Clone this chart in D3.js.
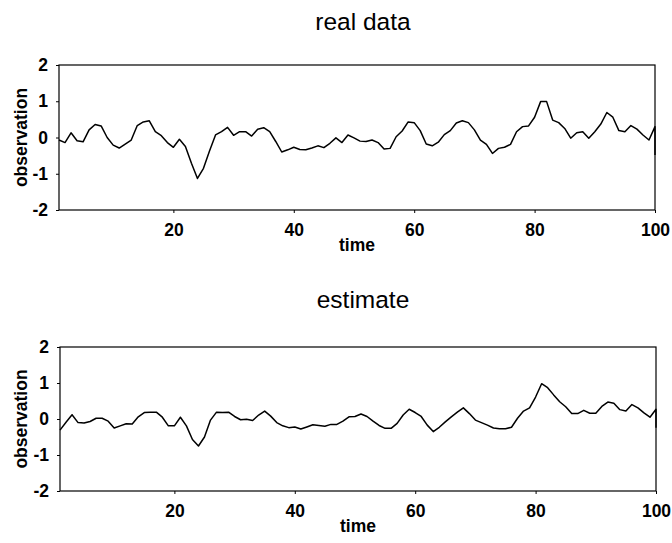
<!DOCTYPE html>
<html>
<head>
<meta charset="utf-8">
<script src="https://cdn.jsdelivr.net/npm/d3@7"></script>
<style>
  html, body { margin: 0; padding: 0; background: #fff; }
  svg { display: block; }
  text { font-family: "Liberation Sans", Arial, sans-serif; fill: #000; }
</style>
</head>
<body>
<svg id="chart" width="672" height="543"></svg>
<script>
// ---- data ----
const time = d3.range(1, 101);
const realData = [
  -0.07, -0.14, 0.13, -0.09, -0.12, 0.21, 0.36, 0.32, 0.00, -0.21,
  -0.29, -0.18, -0.07, 0.33, 0.43, 0.46, 0.16, 0.05, -0.14, -0.27,
  -0.05, -0.25, -0.71, -1.13, -0.85, -0.37, 0.07, 0.16, 0.28, 0.06,
  0.16, 0.16, 0.04, 0.23, 0.27, 0.16, -0.11, -0.40, -0.34, -0.27,
  -0.33, -0.34, -0.29, -0.23, -0.28, -0.16, -0.01, -0.14, 0.07, -0.01,
  -0.10, -0.11, -0.07, -0.14, -0.32, -0.30, 0.02, 0.18, 0.43, 0.41,
  0.19, -0.18, -0.23, -0.13, 0.08, 0.19, 0.40, 0.46, 0.41, 0.21,
  -0.07, -0.19, -0.44, -0.30, -0.27, -0.19, 0.16, 0.30, 0.32, 0.56,
  0.99, 0.99, 0.48, 0.41, 0.25, -0.02, 0.13, 0.16, -0.02, 0.16,
  0.37, 0.69, 0.56, 0.19, 0.16, 0.33, 0.23, 0.07, -0.07, 0.30
];
const realEnd = -0.48;
const estimateData = [
  -0.31, -0.09, 0.12, -0.10, -0.11, -0.07, 0.02, 0.02, -0.06, -0.25,
  -0.19, -0.13, -0.14, 0.06, 0.18, 0.19, 0.19, 0.05, -0.19, -0.19,
  0.05, -0.19, -0.57, -0.75, -0.50, -0.03, 0.19, 0.18, 0.19, 0.07,
  -0.02, -0.01, -0.04, 0.11, 0.22, 0.08, -0.10, -0.19, -0.24, -0.22,
  -0.28, -0.22, -0.16, -0.18, -0.20, -0.15, -0.15, -0.06, 0.06, 0.07,
  0.14, 0.07, -0.06, -0.18, -0.26, -0.26, -0.12, 0.11, 0.27, 0.18,
  0.07, -0.17, -0.35, -0.23, -0.08, 0.06, 0.19, 0.31, 0.15, -0.03,
  -0.10, -0.17, -0.25, -0.27, -0.27, -0.23, 0.02, 0.22, 0.31, 0.61,
  0.98, 0.87, 0.67, 0.48, 0.34, 0.15, 0.15, 0.24, 0.16, 0.16,
  0.35, 0.47, 0.44, 0.26, 0.22, 0.40, 0.31, 0.17, 0.05, 0.27
];
const estimateEnd = -0.24;
const xTicks = [20, 40, 60, 80, 100];
const yTicks = [2, 1, 0, -1, -2];
const titles = ["real data", "estimate"];

// ---- drawing ----
const svg = d3.select("#chart");

function panel(cfg) {
  const x = d3.scaleLinear().domain([1, 100]).range([cfg.left, cfg.right]);
  const y = d3.scaleLinear().domain([-2, 2]).range([cfg.bottom, cfg.top]);
  const g = svg.append("g");

  // title
  g.append("text")
    .attr("x", cfg.titleX).attr("y", cfg.titleY)
    .attr("text-anchor", "middle")
    .style("font-size", "24.5px")
    .text(cfg.title);

  // x axis
  const xAxis = d3.axisBottom(x).tickValues(xTicks).tickSize(3).tickPadding(11).tickFormat(d3.format("d"));
  const xg = g.append("g").attr("transform", `translate(0,${cfg.bottom})`).call(xAxis);
  xg.select(".domain").remove();
  xg.selectAll("line").attr("stroke", "#000").attr("stroke-width", 1);
  xg.selectAll("text").style("font-size", "17.5px").style("font-weight", "bold")
    .style("font-family", '"Liberation Sans", Arial, sans-serif');

  // y axis
  const yAxis = d3.axisLeft(y).tickValues(yTicks).tickSize(3).tickPadding(8).tickFormat(d3.format("d"));
  const yg = g.append("g").attr("transform", `translate(${cfg.left},0)`).call(yAxis);
  yg.select(".domain").remove();
  yg.selectAll("line").attr("stroke", "#000").attr("stroke-width", 1);
  yg.selectAll("text").style("font-size", "17.5px").style("font-weight", "bold")
    .style("font-family", '"Liberation Sans", Arial, sans-serif')
    .text(d => d < 0 ? "-" + Math.abs(d) : d);

  // frame
  g.append("rect")
    .attr("x", cfg.left).attr("y", cfg.top)
    .attr("width", cfg.right - cfg.left).attr("height", cfg.bottom - cfg.top)
    .attr("fill", "none").attr("stroke", "#000").attr("stroke-width", 1.2);

  // line
  const pts = time.map((t, i) => [t, cfg.values[i]]).concat([[100, cfg.end]]);
  g.append("path")
    .datum(pts)
    .attr("fill", "none").attr("stroke", "#000").attr("stroke-width", 1.5)
    .attr("stroke-linejoin", "round")
    .attr("d", d3.line().x(d => x(d[0])).y(d => y(d[1])));

  // axis labels
  g.append("text")
    .attr("x", (cfg.left + cfg.right) / 2).attr("y", cfg.timeY)
    .attr("text-anchor", "middle")
    .style("font-size", "17.5px").style("font-weight", "bold")
    .text("time");
  g.append("text")
    .attr("transform", `translate(${cfg.ylabX},${(cfg.top + cfg.bottom) / 2}) rotate(-90)`)
    .attr("text-anchor", "middle")
    .style("font-size", "17.5px").style("font-weight", "bold")
    .text("observation");
}

panel({ title: titles[0], titleX: 363, titleY: 30, left: 59, right: 655, top: 65, bottom: 210,
        values: realData, end: realEnd, timeY: 251, ylabX: 26.5 });
panel({ title: titles[1], titleX: 363, titleY: 308, left: 60, right: 656, top: 347, bottom: 491,
        values: estimateData, end: estimateEnd, timeY: 532, ylabX: 27 });
</script>
</body>
</html>
